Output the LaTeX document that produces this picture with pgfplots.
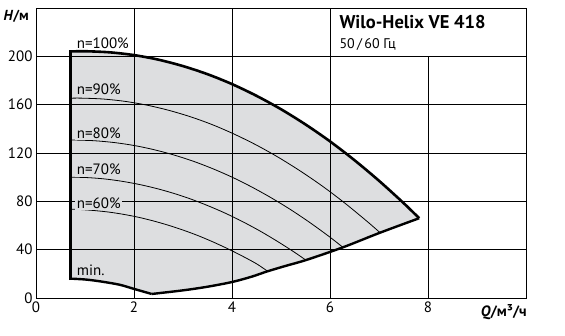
\documentclass[border=0pt]{standalone}
\usepackage{fontspec}
\setmainfont{PT Sans}
\usepackage{pgfplots}
\pgfplotsset{compat=1.18}
\definecolor{areagray}{RGB}{221,222,224}
\begin{document}
\begin{tikzpicture}
\begin{axis}[name=ax, scale only axis, width=490pt, height=290pt,
  xmin=0, xmax=10, ymin=0, ymax=240,
  xtick={0,2,4,6,8}, ytick={0,40,80,120,160,200},
  grid=major, grid style={black, line width=0.7pt},
  axis line style={black, line width=0.9pt},
  major tick length=0pt,
  tick label style={font=\fontsize{15}{15}\selectfont, text=black},
  /pgf/number format/assume math mode=true,
  axis on top,
]
% shaded operating range
\addplot[fill=areagray, draw=none] coordinates {
(0.7,204.0) (1.0,204.2) (1.5,203.3) (2.0,201.0) (2.5,197.2) (3.0,191.9) (3.5,185.2) (4.0,177.0) (4.5,167.3) (5.0,156.2) (5.5,143.6) (6.0,129.6) (6.5,114.0) (7.0,97.0) (7.5,78.6) (7.82,66)
(7.02,54) (6.27,42) (5.52,31.5) (5.1,26.6) (4.72,22.0) (4.4,17.6) (4,13.2) (3.5,9.3) (3,6.3) (2.36,3.3)
(2.0,7.5) (1.7,11) (1.3,13.8) (1.0,15.3) (0.7,16)} -- cycle;
% speed curves
\addplot[black, line width=0.8pt, smooth] coordinates {(0.7,165.3)(0.9,165.4)(1.35,164.7)(1.8,162.8)(2.25,159.7)(2.7,155.4)(3.15,150.0)(3.6,143.4)(4.05,135.5)(4.5,126.5)(4.95,116.3)(5.4,104.9)(5.85,92.4)(6.3,78.6)(6.75,63.6)(7.02,54.1)};
\addplot[black, line width=0.8pt, smooth] coordinates {(0.7,130.7)(0.8,130.7)(1.2,130.1)(1.6,128.6)(2.0,126.2)(2.4,122.8)(2.8,118.5)(3.2,113.3)(3.6,107.1)(4.0,100.0)(4.4,91.9)(4.8,82.9)(5.2,73.0)(5.6,62.1)(6.0,50.3)(6.27,41.7)};
\addplot[black, line width=0.8pt, smooth] coordinates {(0.7,100.0)(1.05,99.6)(1.4,98.5)(1.75,96.6)(2.1,94.0)(2.45,90.7)(2.8,86.7)(3.15,82.0)(3.5,76.5)(3.85,70.4)(4.2,63.5)(4.55,55.9)(4.9,47.5)(5.25,38.5)(5.52,31.0)};
\addplot[black, line width=0.8pt, smooth] coordinates {(0.7,73.5)(0.9,73.2)(1.2,72.3)(1.5,71.0)(1.8,69.1)(2.1,66.7)(2.4,63.7)(2.7,60.2)(3.0,56.2)(3.3,51.7)(3.6,46.6)(3.9,41.0)(4.2,34.9)(4.5,28.3)(4.72,22.3)};
% boundary
\addplot[black, line width=2.4pt, smooth, line join=round] coordinates {(2.36,3.3)(3,6.3)(3.5,9.3)(4,13.2)(4.4,17.6)(4.72,22.0)(5.1,26.6)(5.52,31.5)(6.27,42)(7.02,54)(7.82,66)};
\addplot[black, line width=2.4pt, smooth] coordinates {(0.7,16)(1.0,15.3)(1.3,13.8)(1.7,11)(2.0,7.5)(2.36,3.3)};
\addplot[black, line width=2.6pt, smooth] coordinates {(0.7,204.0)(1.0,204.2)(1.5,203.3)(2.0,201.0)(2.5,197.2)(3.0,191.9)(3.5,185.2)(4.0,177.0)(4.5,167.3)(5.0,156.2)(5.5,143.6)(6.0,129.6)(6.5,114.0)(7.0,97.0)(7.5,78.6)(7.82,66)};
\addplot[black, line width=3.5pt] coordinates {(0.7,14.8)(0.7,205.2)};
% anchor coordinates
\coordinate (tbA) at (axis cs:6,200);
\coordinate (tbB) at (axis cs:10,240);
\coordinate (tt1) at (axis cs:6.19,223.2);
\coordinate (tt2) at (axis cs:6.19,206.6);
\coordinate (l100) at (axis cs:0.80,206.6);
\coordinate (l90) at (axis cs:0.80,168);
\coordinate (l80) at (axis cs:0.80,132.2);
\coordinate (l70) at (axis cs:0.80,101.8);
\coordinate (l60) at (axis cs:0.80,74.2);
\coordinate (lmin) at (axis cs:0.80,18.5);
\coordinate (hl) at (axis cs:-0.667,230);
\coordinate (ql) at (axis cs:10.02,-15.5);
\coordinate (bbA) at (axis cs:-0.735,-31.4);
\coordinate (bbB) at (axis cs:10.796,246.6);
\end{axis}
\draw[black, line width=0.9pt, fill=white] (tbA) rectangle (tbB);
\node[anchor=base west, inner sep=0pt, font=\bfseries\fontsize{18.5}{18.5}\selectfont] at (tt1) {Wilo-Helix VE 418};
\node[anchor=base west, inner sep=0pt, font=\fontsize{14}{14}\selectfont] at (tt2) {50\,/\,60 Гц};
\tikzset{nlab/.style={anchor=base west, inner xsep=1.5pt, inner ysep=1.5pt, font=\fontsize{15}{15}\selectfont}}
\node[nlab] at (l100) {n=100\%};
\node[nlab, fill=areagray] at (l90) {n=90\%};
\node[nlab, fill=areagray] at (l80) {n=80\%};
\node[nlab, fill=areagray] at (l70) {n=70\%};
\node[nlab, fill=areagray] at (l60) {n=60\%};
\node[nlab, fill=areagray] at (lmin) {min.};
\node[anchor=base west, inner sep=0pt, font=\bfseries\fontsize{14.5}{14.5}\selectfont] at (hl) {\textit{H}/м};
\node[anchor=base east, inner sep=0pt, font=\bfseries\fontsize{15}{15}\selectfont] at (ql) {\textit{Q}/м³/ч};
\pgfresetboundingbox
\path[use as bounding box] (bbA) rectangle (bbB);
\end{tikzpicture}
\end{document}
